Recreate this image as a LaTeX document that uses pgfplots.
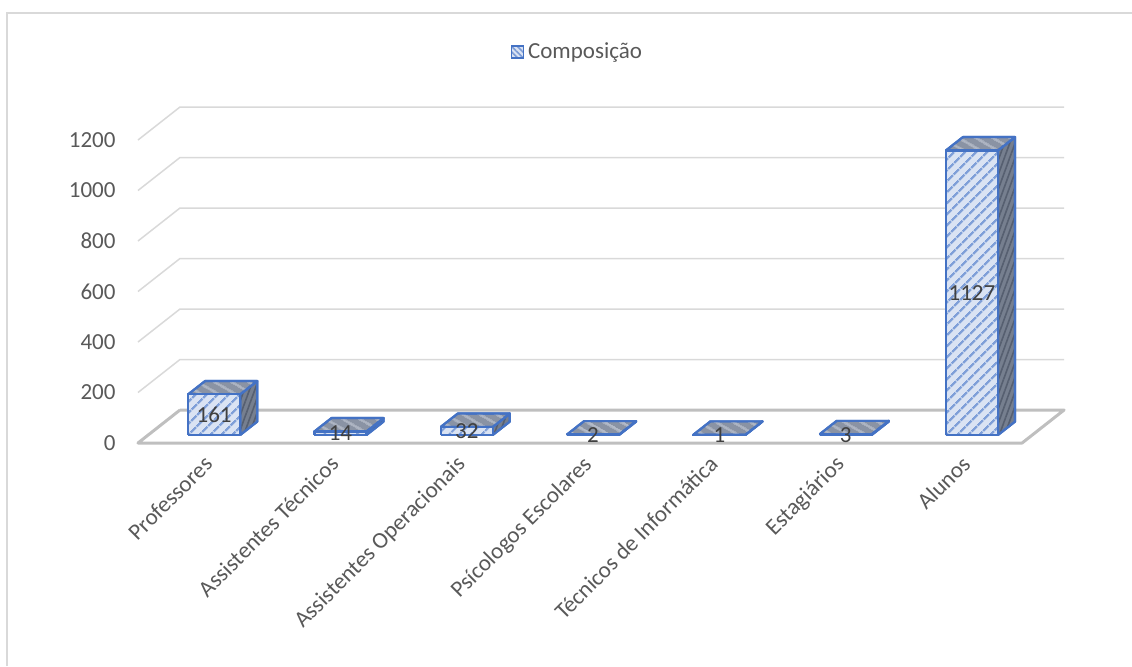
\documentclass[border=0pt]{standalone}
\usepackage{pgfplots}
\pgfplotsset{compat=1.18}
\usepackage{pgfplotstable}
\usetikzlibrary{patterns,patterns.meta}
\usepackage{fontspec}
\setmainfont{Carlito}
\definecolor{barblue}{HTML}{4472C4}
\definecolor{frontfill}{HTML}{DAE3F3}
\definecolor{frontstripe}{HTML}{7F9FD8}
\definecolor{topfill}{HTML}{8A93A4}
\definecolor{topstripe}{HTML}{B3BAC8}
\definecolor{sidefill}{HTML}{767F8F}
\definecolor{sidestripe}{HTML}{565F70}
\definecolor{gridc}{HTML}{D9D9D9}
\definecolor{floorc}{HTML}{BFBFBF}
\definecolor{txt}{HTML}{595959}
\definecolor{lbl}{HTML}{404040}
\tikzset{
 frontface/.style={draw=barblue, line width=1.1pt, line join=round, fill=frontfill,
   postaction={pattern={Lines[angle=45,distance=4pt,line width=1.2pt]}, pattern color=frontstripe}},
 topface/.style={draw=barblue, line width=1.1pt, line join=round, fill=topfill,
   postaction={pattern={Lines[angle=-30,distance=4pt,line width=1pt]}, pattern color=topstripe}},
 sideface/.style={draw=barblue, line width=1.1pt, line join=round, fill=sidefill,
   postaction={pattern={Lines[angle=70,distance=2.5pt,line width=0.8pt]}, pattern color=sidestripe}},
}
\pgfplotstableread{
x v
0 161
1 14
2 32
3 2
4 1
5 3
6 1127
}\datatable
\begin{document}
\begin{tikzpicture}
\begin{axis}[
  at={(0,0)}, anchor=south west,
  x=63.15pt, y=0.12625pt,
  xmin=-0.5, xmax=6.5, ymin=0, ymax=1200,
  clip=false,
  axis line style={draw=none},
  major tick style={draw=none},
  major tick length=0pt,
  xtick={0,...,6},
  xticklabels={Professores, Assistentes Técnicos, Assistentes Operacionais, Psícologos Escolares, Técnicos de Informática, Estagiários, Alunos},
  xticklabel style={rotate=45, anchor=north east, xshift=0pt, yshift=-1pt, font=\fontsize{11.5}{13}\selectfont, text=txt},
  ytick={0,200,...,1200},
  yticklabel style={anchor=east, xshift=-7.7pt, font=\fontsize{11.5}{13}\selectfont, text=txt},
  /pgf/number format/assume math mode=true,
  /pgf/number format/set thousands separator={},
  legend style={at={(0.498,1.29)}, anchor=center, draw=none, fill=none,
    font=\fontsize{11.5}{13}\selectfont, text=txt, inner sep=0pt},
]
% back wall gridlines
\pgfplotsinvokeforeach{200,400,600,800,1000,1200}{
  \pgfmathsetmacro\gb{#1+130.7}
  \edef\temp{\noexpand\addplot[gridc, line width=0.75pt, mark=none, forget plot] coordinates {(-0.5,#1) (-0.1675,\gb) (6.8325,\gb)};}
  \temp
}
% floor
\addplot[floorc, line width=1.5pt, mark=none, line join=round, forget plot] coordinates {(-0.1675,130.7) (-0.5,0) (6.5,0) (6.8325,130.7) (-0.1675,130.7)};
% bars
\pgfplotsinvokeforeach{0,...,6}{
  \pgfplotstablegetelem{#1}{v}\of\datatable
  \let\val\pgfplotsretval
  \pgfmathsetmacro\xl{#1-0.103}
  \pgfmathsetmacro\xr{#1+0.309}
  \pgfmathsetmacro\xlb{#1+0.032}
  \pgfmathsetmacro\xrb{#1+0.444}
  \pgfmathsetmacro\bz{31.7}
  \pgfmathsetmacro\bzb{31.7+53}
  \pgfmathsetmacro\tp{31.7+\val}
  \pgfmathsetmacro\tb{31.7+\val+53}
  \edef\temp{%
   \noexpand\addplot[sideface, mark=none, forget plot] coordinates {(\xr,\bz) (\xrb,\bzb) (\xrb,\tb) (\xr,\tp) (\xr,\bz)};
   \noexpand\addplot[topface, mark=none, forget plot] coordinates {(\xl,\tp) (\xr,\tp) (\xrb,\tb) (\xlb,\tb) (\xl,\tp)};
   \noexpand\addplot[frontface, mark=none, forget plot] coordinates {(\xl,\bz) (\xr,\bz) (\xr,\tp) (\xl,\tp) (\xl,\bz)};
  }\temp
}
% data labels
\addplot[draw=none, mark=none, forget plot, point meta=explicit symbolic,
  nodes near coords, nodes near coords align=center,
  every node near coord/.append style={font=\fontsize{11.5}{13}\selectfont, text=lbl, inner sep=0pt}]
  table[x expr=\thisrow{x}+0.103, y expr=31.7+\thisrow{v}/2, meta=v] {\datatable};
\addlegendimage{legend image code/.code={\draw[draw=barblue, line width=0.8pt, fill=frontfill, postaction={pattern={Lines[angle=-45,distance=2pt,line width=0.8pt]}, pattern color=barblue!70}] (0pt,-3pt) rectangle (6pt,3pt);}}
\addlegendentry{Composição}
\end{axis}
\draw[gridc, line width=1pt] (-65.5pt,-111.5pt) -- (-65.5pt,215pt) -- (497pt,215pt);
\pgfresetboundingbox
\path (-69pt,-111.5pt) rectangle (497pt,221.5pt);
\end{tikzpicture}
\end{document}
